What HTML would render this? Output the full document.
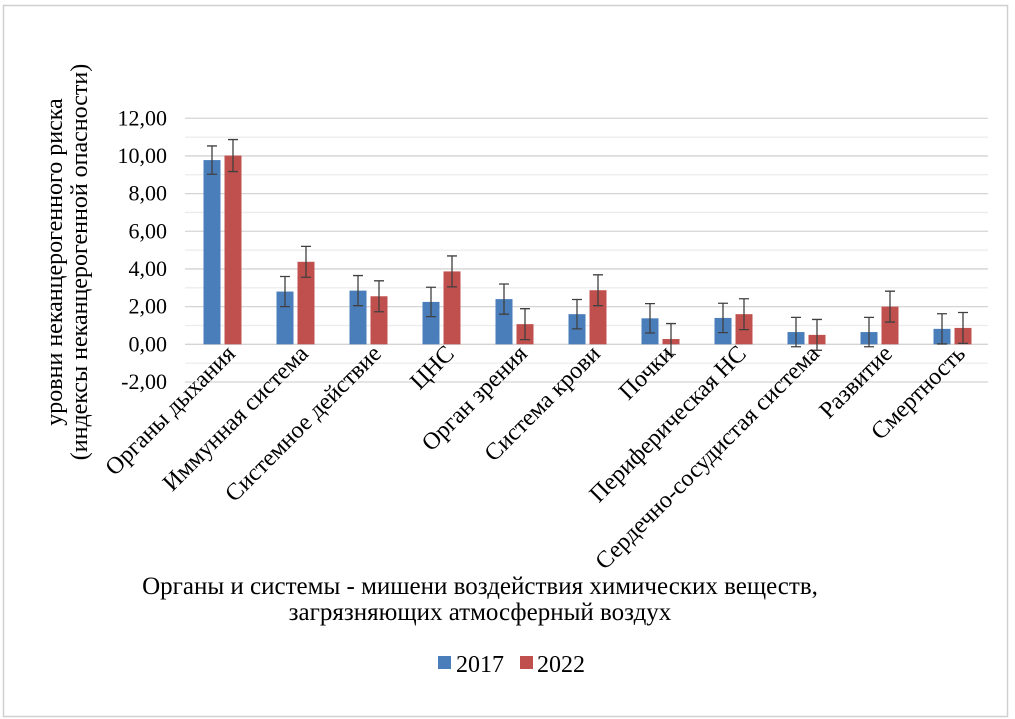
<!DOCTYPE html>
<html><head><meta charset="utf-8"><style>
body{margin:0;background:#fff;}
svg, svg text{font-family:"Liberation Serif","DejaVu Serif",serif;}
svg{display:block;}
</style></head><body>
<svg id="chart" width="1015" height="719" viewBox="0 0 1015 719" font-family="Liberation Serif, DejaVu Serif, serif">
<rect x="3.5" y="5.5" width="1004" height="711" fill="#fff" stroke="#d0d0d0" stroke-width="1.5"/>
<g id="grid"></g><g id="bars"></g><g id="labels"></g>
<text transform="translate(62,262) rotate(-90)" text-anchor="middle" font-size="24"><tspan x="0" y="0">уровни неканцерогенного риска</tspan><tspan x="0" y="25">(индексы неканцерогенной опасности)</tspan></text>
<text x="480" y="594" text-anchor="middle" font-size="25"><tspan x="480">Органы и системы - мишени воздействия химических веществ,</tspan><tspan x="480" dy="26">загрязняющих атмосферный воздух</tspan></text>
<g>
<rect x="438" y="656" width="13" height="13" fill="#4a7ebb"/>
<text x="456" y="672" font-size="24">2017</text>
<rect x="520" y="656" width="13" height="13" fill="#c0504d"/>
<text x="537" y="672" font-size="24">2022</text>
</g>
</svg>
<script>
const categories=["Органы дыхания","Иммунная система","Системное действие","ЦНС","Орган зрения","Система крови","Почки","Периферическая НС","Сердечно-сосудистая система","Развитие","Смертность"];
const values2017=[9.78,2.8,2.85,2.25,2.4,1.6,1.38,1.4,0.65,0.65,0.82];
const values2022=[10.02,4.38,2.55,3.87,1.07,2.87,0.28,1.6,0.5,2.0,0.87];
const err2017=[0.75,0.8,0.8,0.78,0.8,0.78,0.78,0.78,0.78,0.78,0.8];
const err2022=[0.85,0.82,0.82,0.82,0.82,0.82,0.82,0.82,0.82,0.82,0.82];
const yTicks=[-2,0,2,4,6,8,10,12];
const NS="http://www.w3.org/2000/svg";
const L=185,R=988,Y0=344.3,PX=(382-118.3)/14;
const y=v=>Y0-v*PX;
const cw=(R-L)/categories.length;
const cx=i=>L+cw*(i+0.5);
function mk(p,t,a){const e=document.createElementNS(NS,t);for(const k in a)e.setAttribute(k,a[k]);p.appendChild(e);return e;}
const grid=document.getElementById('grid'),bars=document.getElementById('bars'),labels=document.getElementById('labels');
for(let v=-2;v<=12;v++){
 const ln=mk(grid,'line',{x1:L,x2:R,y1:y(v),y2:y(v),stroke:v%2===0?'#d4d4d4':'#ececec','stroke-width':1.3});
 
 
}
yTicks.forEach(v=>{
 const t=mk(labels,'text',{x:167,y:y(v)+7,'text-anchor':'end','font-size':22});
 t.textContent=v.toFixed(2).replace('.',',');
 
 
});
const bw=17,gap=4;
function bar(i,v,e,off,col,name){
 const x=cx(i)+off;
 const top=Math.min(y(v),y(0)),h=Math.abs(y(v)-y(0));
 const r=mk(bars,'rect',{x:x,y:top,width:bw,height:h,fill:col});
 
 
 const m=x+bw/2;
 const g=mk(bars,'path',{d:`M${m},${y(v+e)}V${y(v-e)}M${m-5},${y(v+e)}h10M${m-5},${y(v-e)}h10`,stroke:'#404040','stroke-width':1.3,fill:'none'});
 
 
}
categories.forEach((c,i)=>{
 bar(i,values2017[i],err2017[i],-bw-gap/2+1,'#4a7ebb','bar-2017');
 bar(i,values2022[i],err2022[i],gap/2+1,'#c0504d','bar-2022');
 const t=mk(labels,'text',{'text-anchor':'end','font-size':24,transform:`translate(${cx(i)+15},${355}) rotate(-45)`});
 t.textContent=c;
 
 
});
</script>
</body></html>
